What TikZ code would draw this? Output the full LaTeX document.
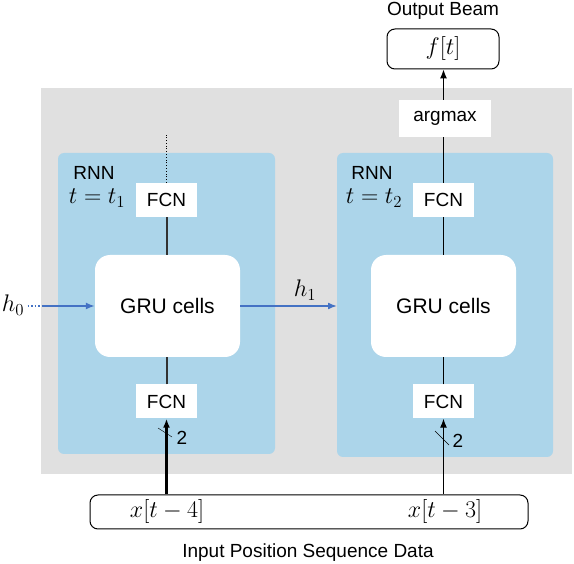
\RequirePackage{fix-cm}
\documentclass[tikz,border=0pt]{standalone}
\usepackage{fontspec}
\setmainfont{Liberation Sans}
\usetikzlibrary{arrows.meta}
\definecolor{bggray}{RGB}{224,224,224}
\definecolor{rnnblue}{RGB}{172,213,234}
\definecolor{hblue}{RGB}{68,114,196}
\definecolor{linegray}{RGB}{50,50,50}
\tikzset{
  txt/.style={font=\fontsize{19}{22}\selectfont},
  mth/.style={font=\fontsize{24}{28}\selectfont},
  fcnbox/.style={txt,fill=white,minimum width=61pt,minimum height=34pt,inner sep=0pt},
  grubox/.style={fill=white,rounded corners=15pt,minimum width=145pt,minimum height=102pt,font=\fontsize{21}{24}\selectfont},
  tip/.style={-{Latex[length=9pt,width=7pt]}},
}
\begin{document}
\begin{tikzpicture}[x=1pt,y=-1pt]
    \useasboundingbox (0,0) rectangle (574,564);
    %% background
    \fill[bggray] (41,88) rectangle (572,474);
    \fill[rnnblue,rounded corners=6pt] (58,153) rectangle (275,454);
    \fill[rnnblue,rounded corners=6pt] (337,153) rectangle (553,457);
    \coordinate (rnnR) at (337,306);
    %% first RNN
    \node[txt] (rnnL) at (94,173) {RNN};
    \node[mth] (tL) at (97,198) {$t=t_1$};
    \node[grubox] (gruL) at (167.5,306) {GRU cells};
    \node[fcnbox] (fcnLtop) at (166.5,200) {FCN};
    \node[fcnbox] (fcnLbot) at (166.5,401.5) {FCN};
    \coordinate (fcnLout) at (166.5,135);
    %% second RNN
    \node[txt] (rnnRlbl) at (372,173) {RNN};
    \node[mth] (tR) at (374,198) {$t=t_2$};
    \node[grubox] (gruR) at (443.5,306) {GRU cells};
    \node[fcnbox] (fcnRtop) at (443.5,200) {FCN};
    \node[fcnbox] (fcnRbot) at (443.5,401.5) {FCN};
    \node[txt,fill=white,minimum width=92pt,minimum height=37pt,inner sep=0pt] (argmax) at (445,118.5) {argmax};
    %% output
    \node[mth,draw,line width=1pt,rounded corners=8pt,minimum width=112pt,minimum height=40pt,inner sep=0pt] (ft) at (443,49) {$f[t]$};
    \node[txt] (outlbl) at (443,11) {Output Beam};
    %% input
    \node[draw,line width=1pt,rounded corners=8pt,minimum width=438pt,minimum height=34pt,inner sep=0pt] (input) at (309,512) {};
    \node[mth] (x4) at (167,512) {$x[t-4]$};
    \node[mth] (x3) at (445,512) {$x[t-3]$};
    \node[txt] (inlbl) at (308,553) {Input Position Sequence Data};
    %% hidden states
    \node[mth] (h0) at (13,305) {$h_0$};
    \coordinate (h0end) at (42,306);
    \node[mth] (h1) at (305,290) {$h_1$};
    \draw[hblue,line width=1.5pt,dotted] (h0.east |- h0end) -- (h0end);
    \draw[hblue,line width=1.5pt,tip] (h0end) -- (gruL.west);
    \draw[hblue,line width=1.5pt,tip] (gruL.east) -- (rnnR);
    %% connections, first RNN
    \draw[line width=2.4pt,tip] (fcnLbot.south |- input.north) -- (fcnLbot.south);
    \draw[linegray,line width=2pt] (fcnLbot.north) -- (fcnLbot.north |- gruL.south);
    \draw[linegray,line width=2pt] (fcnLtop.south |- gruL.north) -- (fcnLtop.south);
    \draw[line width=0.8pt,dotted] (fcnLtop.north) -- (fcnLout);
    \draw (158,428) -- (172,437);
    \node[txt] (dimL) at (182,438) {2};
    %% connections, second RNN
    \draw[line width=1.2pt,tip] (fcnRbot.south |- input.north) -- (fcnRbot.south);
    \draw[line width=1.2pt] (fcnRbot.north) -- (gruR.south);
    \draw[line width=1.2pt] (gruR.north) -- (fcnRtop.south);
    \draw[line width=1.2pt] (fcnRtop.north) -- (fcnRtop.north |- argmax.south);
    \draw[line width=1.2pt,tip] (fcnRtop.north |- argmax.north) -- (ft.south -| fcnRtop.north);
    \draw (435,431) -- (449,445);
    \node[txt] (dimR) at (458,441) {2};
\end{tikzpicture}
\end{document}
